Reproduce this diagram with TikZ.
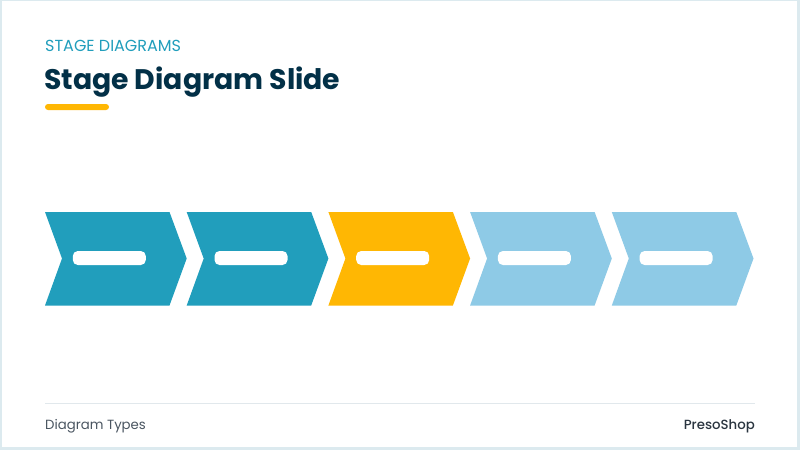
\documentclass[tikz,border=0pt]{standalone}
\usepackage{fontspec}
\setmainfont{Poppins}
\newfontfamily\popbold{Poppins Bold}
\newfontfamily\popmed{Poppins Medium}
\definecolor{navy}{HTML}{023047}
\definecolor{teal}{HTML}{219EBC}
\definecolor{sky}{HTML}{8ECAE6}
\definecolor{amber}{HTML}{FFB703}
\definecolor{frame}{HTML}{DCEAEF}
\definecolor{rule}{HTML}{E1E8EC}
\definecolor{foot}{HTML}{4A5561}
\definecolor{brandc}{HTML}{2A3540}
\tikzset{
  chev/.style={fill=#1, draw=none},
  pill/.style={fill=white, draw=none, rounded corners=5pt, minimum width=73pt, minimum height=14pt, inner sep=0pt},
  txt/.style={inner sep=0pt, anchor=base west},
}
\begin{document}
\begin{tikzpicture}[x=1pt,y=-1pt]
\useasboundingbox (0,0) rectangle (800,450);
\fill[frame] (0,0) rectangle (800,450);
\fill[white] (2,1) rectangle (797,447);
% header
\node[txt, text=teal, font=\fontsize{16}{19}\selectfont] (sub) at (45,51.5) {STAGE DIAGRAMS};
\node[txt, text=navy, font=\popbold\fontsize{28.3}{33}\selectfont] (title) at (44,89.3) {Stage Diagram Slide};
\fill[amber, rounded corners=3pt] (45,104) rectangle (109,110);
% chevrons
\foreach \i/\c in {0/teal,1/teal,2/amber,3/sky,4/sky}{
  \pgfmathsetmacro{\xo}{45+141.7*\i}
  \fill[chev=\c] (\xo,212) -- (\xo+124.5,212) -- (\xo+141.7,258.5) -- (\xo+124.5,305.5) -- (\xo,305.5) -- (\xo+17,258.5) -- cycle;
  \node[pill] (p\i) at (\xo+64.3,258) {};
}
% footer
\draw[rule, line width=1.5pt] (45,403.5) -- (755,403.5);
\node[txt, text=foot, font=\fontsize{13.3}{16}\selectfont] (ft) at (45,429) {Diagram Types};
\node[inner sep=0pt, anchor=base east, text=brandc, font=\popmed\fontsize{13.3}{16}\selectfont] (brand) at (755,429) {PresoShop};
\end{tikzpicture}
\end{document}
